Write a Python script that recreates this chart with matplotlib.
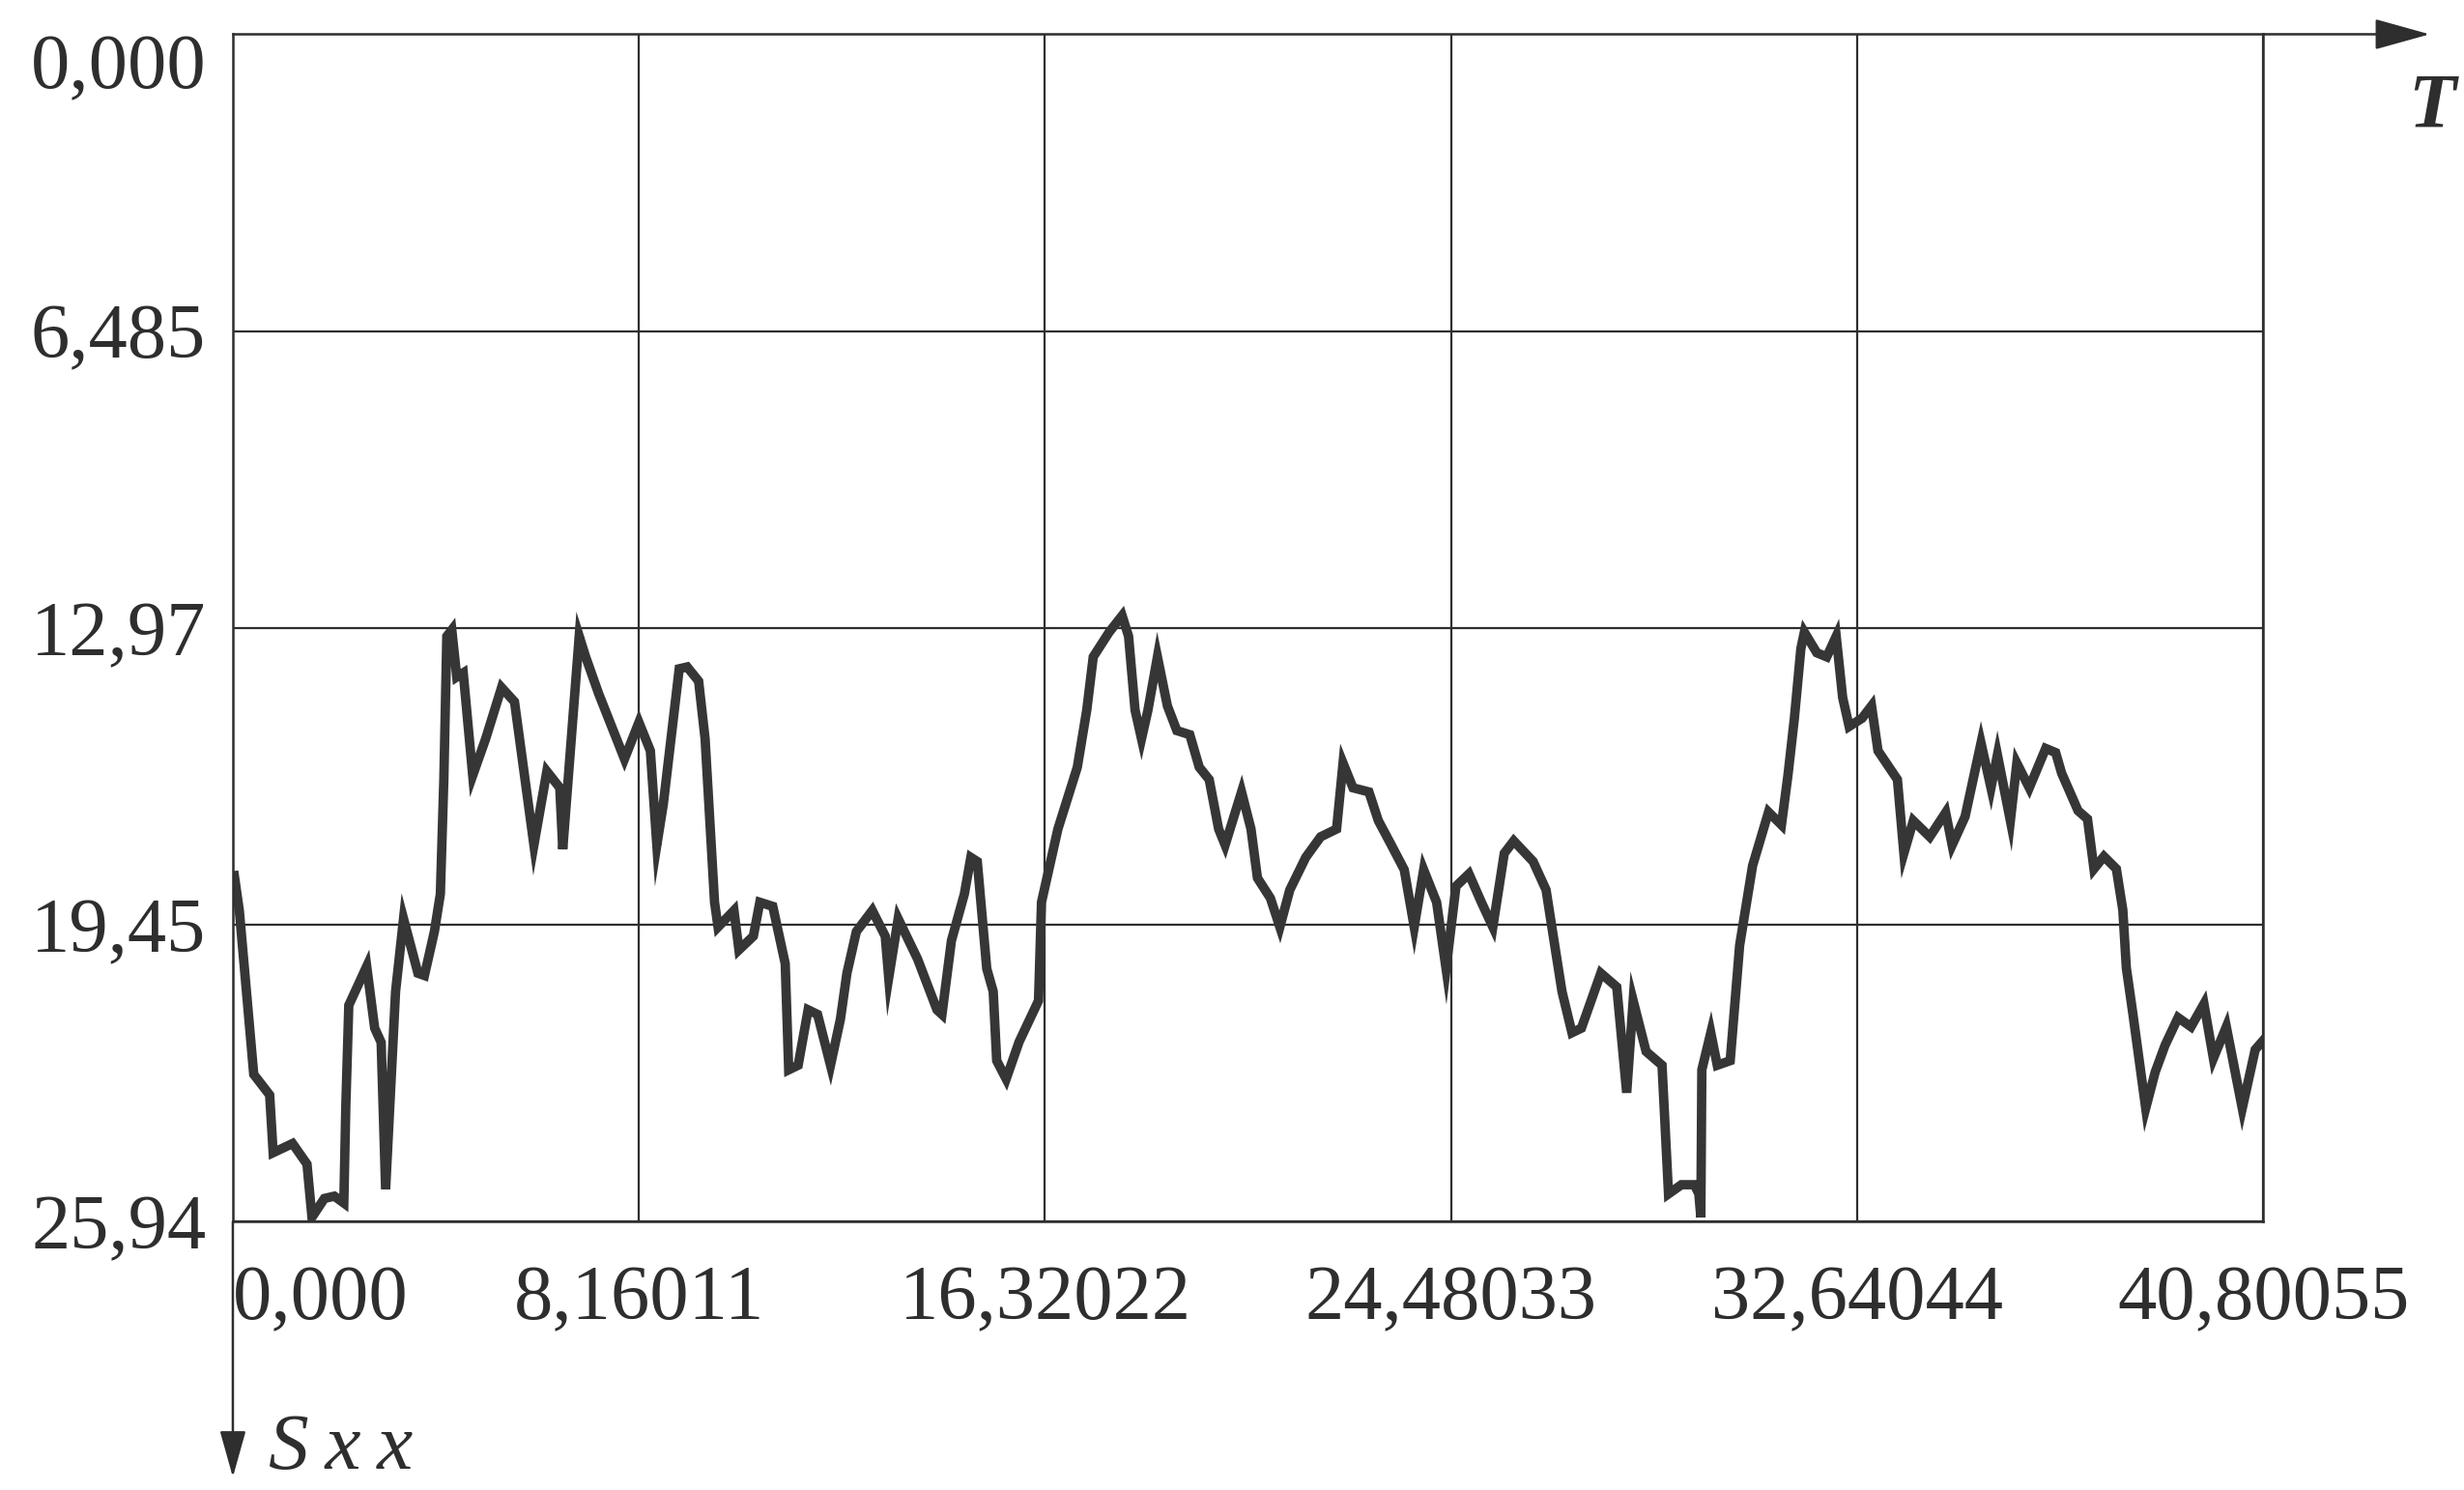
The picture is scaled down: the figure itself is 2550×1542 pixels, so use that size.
import matplotlib.pyplot as plt

# time axis T and displacement Sxx (axis is drawn downwards)
t = [0.03, 0.13, 0.42, 0.74, 0.81, 1.20, 1.49, 1.59, 1.84, 2.04, 2.23, 2.27, 2.33, 2.69, 2.85,
     2.98, 3.07, 3.27, 3.43, 3.72, 3.85, 4.05, 4.17, 4.24, 4.30, 4.40, 4.50, 4.63, 4.82, 5.08,
     5.40, 5.66, 6.05, 6.31, 6.57, 6.63, 6.96, 7.09, 7.35, 7.87, 8.00, 8.16, 8.39, 8.52, 8.65,
     8.97, 9.13, 9.36, 9.49, 9.68, 9.75, 10.07, 10.17, 10.46, 10.59, 10.85, 11.10, 11.17, 11.36,
     11.56, 11.75, 12.01, 12.21, 12.34, 12.53, 12.85, 13.11, 13.18, 13.37, 13.76, 14.15, 14.25,
     14.44, 14.70, 14.83, 14.96, 15.15, 15.28, 15.35, 15.54, 15.80, 16.19, 16.25, 16.58, 16.97,
     17.16, 17.29, 17.61, 17.87, 18.00, 18.13, 18.26, 18.39, 18.58, 18.78, 18.97, 19.23, 19.42,
     19.62, 19.81, 19.94, 20.27, 20.46, 20.59, 20.85, 21.04, 21.24, 21.56, 21.86, 22.18, 22.31,
     22.51, 22.83, 23.02, 23.28, 23.54, 23.74, 23.93, 24.19, 24.38, 24.58, 24.84, 25.09, 25.32,
     25.55, 25.74, 26.13, 26.39, 26.52, 26.71, 26.91, 27.10, 27.49, 27.81, 28.01, 28.14, 28.40,
     28.72, 28.85, 29.11, 29.37, 29.46, 29.50, 29.52, 29.70, 29.83, 30.09, 30.28, 30.54, 30.86,
     31.12, 31.25, 31.38, 31.51, 31.58, 31.83, 32.03, 32.22, 32.35, 32.48, 32.74, 32.93, 33.06,
     33.45, 33.58, 33.77, 34.10, 34.42, 34.55, 34.81, 35.13, 35.33, 35.46, 35.72, 35.85, 36.10,
     36.43, 36.63, 36.75, 37.08, 37.27, 37.40, 37.60, 37.85, 37.98, 38.05, 38.18, 38.44, 38.63,
     38.83, 39.09, 39.35, 39.61, 39.80, 40.06, 40.38, 40.64, 40.80]
sxx = [18.38, 19.14, 22.72, 23.17, 24.43, 24.23, 24.68, 25.84, 25.43, 25.38, 25.53, 23.42, 21.21, 20.36, 21.71,
       22.02, 25.23, 20.91, 19.32, 20.51, 20.56, 19.60, 18.78, 16.28, 13.15, 13.01, 14.04, 13.95, 16.19, 15.39,
       14.27, 14.58, 17.71, 16.10, 16.46, 17.80, 13.15, 13.60, 14.40, 15.83, 15.47, 15.03, 15.65, 17.71, 16.82,
       13.86, 13.82, 14.13, 15.39, 18.96, 19.50, 19.14, 20.00, 19.70, 18.96, 19.05, 20.30, 22.62, 22.52,
       21.31, 21.41, 22.52, 21.51, 20.51, 19.60, 19.14, 19.70, 20.61, 19.32, 20.20, 21.31, 21.41,
       19.80, 18.78, 17.98, 18.07, 20.41, 20.91, 22.42, 22.82, 22.01, 21.11, 18.96, 17.36, 16.01,
       14.76, 13.60, 13.06, 12.70, 13.15, 14.76, 15.39, 14.76, 13.60, 14.67, 15.21, 15.30, 16.01,
       16.28, 17.36, 17.71, 16.55, 17.36, 18.43, 18.87, 19.50, 18.69, 17.98, 17.53, 17.36, 15.92,
       16.46, 16.55, 17.18, 17.71, 18.25, 19.50, 18.25, 18.96, 20.41, 18.61, 18.34, 18.96, 19.50,
       17.89, 17.62, 18.07, 18.69, 19.60, 20.91, 21.81, 21.71, 20.51, 20.81, 23.12, 21.11, 22.22,
       22.52, 25.33, 25.13, 25.13, 25.33, 25.84, 22.62, 21.81, 22.52, 22.42, 19.90, 18.16, 16.99,
       17.27, 16.19, 14.94, 13.42, 13.06, 13.51, 13.60, 13.15, 14.49, 15.12, 14.94, 14.67, 15.65,
       16.28, 17.89, 17.18, 17.53, 17.00, 17.71, 17.09, 15.48, 16.46, 15.74, 17.18, 15.92, 16.46,
       15.60, 15.69, 16.14, 16.96, 17.14, 18.23, 17.96, 18.23, 19.13, 20.39, 21.38, 23.46, 22.67,
       22.08, 21.48, 21.68, 21.18, 22.37, 21.68, 23.46, 22.18, 21.98]

t_ticks = [0.0, 8.16011, 16.32022, 24.48033, 32.64044, 40.80055]
t_labels = ["0,000", "8,16011", "16,32022", "24,48033", "32,64044", "40,80055"]
s_ticks = [0.0, 6.485, 12.97, 19.455, 25.94]
s_labels = ["0,000", "6,485", "12,97", "19,45", "25,94"]

plt.rcParams['font.family'] = ['Liberation Serif', 'DejaVu Serif']
ink = '#2e2e2e'

fig = plt.figure(figsize=(25.5, 15.42), dpi=100)
ax = fig.add_axes([0.0945, 0.18, 0.824, 0.797])

ax.plot(t, sxx, color='#363636', lw=7, solid_joinstyle='miter')

ax.set_xlim(0, 40.80055)
ax.set_ylim(25.94, 0)
ax.set_xticks(t_ticks)
ax.set_xticklabels(t_labels, fontsize=58)
ax.set_yticks(s_ticks)
ax.set_yticklabels(s_labels, fontsize=58)
ax.tick_params(length=0, colors=ink, pad=20)
ax.tick_params(axis='x', pad=32)
ax.get_xticklabels()[0].set_ha('left')
ax.get_yticklabels()[0].set_va('top')
ax.grid(True, color=ink, lw=1.6)
for sp in ax.spines.values():
    sp.set_color(ink)
    sp.set_linewidth(1.8)

# axis arrows
ax.annotate('', xy=(1.082, 1), xytext=(1.0, 1), xycoords='axes fraction',
            arrowprops=dict(arrowstyle='-|>,head_length=1.8,head_width=0.5',
                            mutation_scale=20, color=ink, lw=1.8, shrinkA=0, shrinkB=0),
            annotation_clip=False)
ax.annotate('', xy=(0, -0.215), xytext=(0, 0), xycoords='axes fraction',
            arrowprops=dict(arrowstyle='-|>,head_length=1.5,head_width=0.42',
                            mutation_scale=20, color=ink, lw=1.8, shrinkA=0, shrinkB=0),
            annotation_clip=False)
fig.text(2517 / 2550, 1 - 112 / 1542, 'T', fontsize=58, fontstyle='italic', fontweight='bold',
         color=ink, ha='center', va='center')
fig.text(278 / 2550, 1 - 1500 / 1542, 'S\u2009x\u2009x', fontsize=60, fontstyle='italic',
         color=ink, ha='left', va='center')

fig.savefig('out.png', dpi=100, facecolor='white')
